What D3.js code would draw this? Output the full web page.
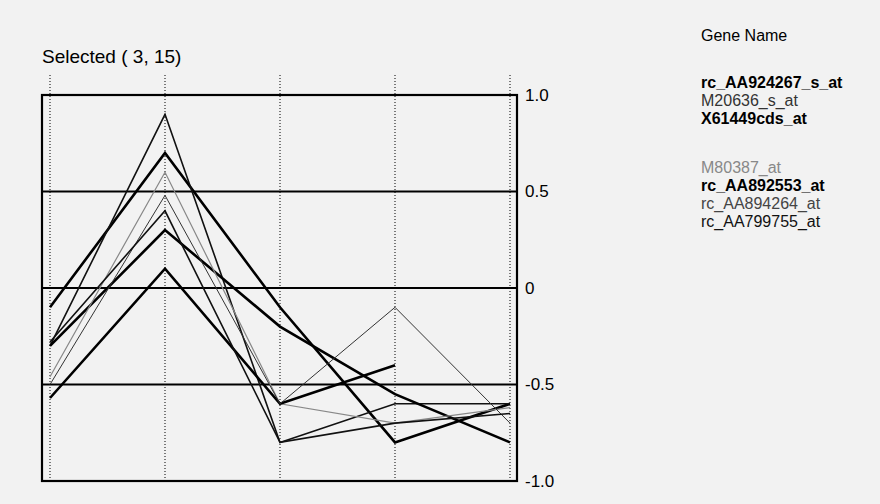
<!DOCTYPE html>
<html><head><meta charset="utf-8">
<script src="https://cdn.jsdelivr.net/npm/d3@7/dist/d3.min.js"></script>
<style>
html,body{margin:0;padding:0;background:#f2f2f2;}
svg{display:block;font-family:"Liberation Sans",Arial,sans-serif;}
</style></head><body>
<svg id="chart" width="880" height="504"></svg>
<script>
// ---- data ----
const conditions = ["c1", "c2", "c3", "c4", "c5"];
const yTicks = [1.0, 0.5, 0, -0.5, -1.0];
const yTickLabels = ["1.0", "0.5", "0", "-0.5", "-1.0"];
const titleText = "Selected ( 3, 15)";
const legendTitle = "Gene Name";
const geneNames = ["rc_AA924267_s_at", "M20636_s_at", "X61449cds_at", "M80387_at", "rc_AA892553_at", "rc_AA894264_at", "rc_AA799755_at"];
const s_AA924267 = [-0.10, 0.70, -0.10, -0.80, -0.60];
const s_M20636   = [-0.30, 0.90, -0.80, -0.60, -0.60];
const s_X61449   = [-0.30, 0.30, -0.20, -0.55, -0.80];
const s_M80387   = [-0.46, 0.60, -0.60, -0.70, -0.62];
const s_AA892553 = [-0.57, 0.10, -0.60, -0.40, null];
const s_AA894264 = [-0.50, 0.48, -0.60, -0.10, -0.70];
const s_AA799755 = [-0.28, 0.40, -0.80, -0.70, -0.65];
const seriesValues = [s_AA924267, s_M20636, s_X61449, s_M80387, s_AA892553, s_AA894264, s_AA799755];

// ---- styles ----
const lineStyle = [
  {w: 2.6, c: "#000"},
  {w: 1.6, c: "#111"},
  {w: 2.6, c: "#000"},
  {w: 1.2, c: "#888"},
  {w: 2.6, c: "#000"},
  {w: 1.0, c: "#333"},
  {w: 1.6, c: "#111"}
];
const legendStyle = [
  {fw: "bold", c: "#000"},
  {fw: "normal", c: "#333"},
  {fw: "bold", c: "#000"},
  {fw: "normal", c: "#888"},
  {fw: "bold", c: "#000"},
  {fw: "normal", c: "#444"},
  {fw: "normal", c: "#111"}
];

const svg = d3.select("#chart");
const box = {left: 42, right: 517, top: 95, bottom: 481};

const x = d3.scalePoint().domain(conditions).range([50, 510]);
const y = d3.scaleLinear().domain([-1, 1]).range([box.bottom, box.top]);

// vertical dotted grid lines
svg.append("g").selectAll("line").data(conditions).join("line")
  .attr("x1", d => x(d)).attr("x2", d => x(d))
  .attr("y1", 75).attr("y2", box.bottom)
  .attr("stroke", "#000").attr("stroke-width", 1)
  .attr("stroke-dasharray", "1,2");

// horizontal solid grid lines
svg.append("g").selectAll("line").data(yTicks.filter(v => Math.abs(v) < 1)).join("line")
  .attr("x1", box.left).attr("x2", box.right)
  .attr("y1", d => y(d)).attr("y2", d => y(d))
  .attr("stroke", "#000").attr("stroke-width", 2.2);

// frame
svg.append("rect")
  .attr("x", box.left).attr("y", box.top)
  .attr("width", box.right - box.left).attr("height", box.bottom - box.top)
  .attr("fill", "none").attr("stroke", "#000").attr("stroke-width", 2.2);

// y axis on right
const yAxis = d3.axisRight(y).tickValues(yTicks)
  .tickFormat((d, i) => yTickLabels[i]).tickSize(0).tickPadding(8);
const ga = svg.append("g").attr("transform", `translate(${box.right},0)`).call(yAxis);
ga.select(".domain").remove();
ga.selectAll("text").attr("font-size", 17).attr("fill", "#000")
  .attr("font-family", "'Liberation Sans',Arial,sans-serif");

// lines
const line = d3.line()
  .defined(d => d != null)
  .x((d, i) => x(conditions[i]))
  .y(d => y(d));
svg.append("g").selectAll("path").data(seriesValues).join("path")
  .attr("d", d => line(d))
  .attr("fill", "none")
  .attr("stroke", (d, i) => lineStyle[i].c)
  .attr("stroke-width", (d, i) => lineStyle[i].w)
  .attr("stroke-linejoin", "miter");

// title
svg.append("text").attr("x", 42).attr("y", 63).text(titleText)
  .attr("font-size", 19).attr("fill", "#000");

// legend
svg.append("text").attr("x", 701).attr("y", 41).text(legendTitle)
  .attr("font-size", 16).attr("fill", "#000");
const legY = [82, 100, 118, 167, 185, 203, 221];
svg.append("g").selectAll("text").data(geneNames).join("text")
  .attr("x", 701)
  .attr("y", (d, i) => legY[i] + 6)
  .text(d => d)
  .attr("font-size", 16)
  .attr("font-weight", (d, i) => legendStyle[i].fw)
  .attr("fill", (d, i) => legendStyle[i].c);
</script>
</body></html>
